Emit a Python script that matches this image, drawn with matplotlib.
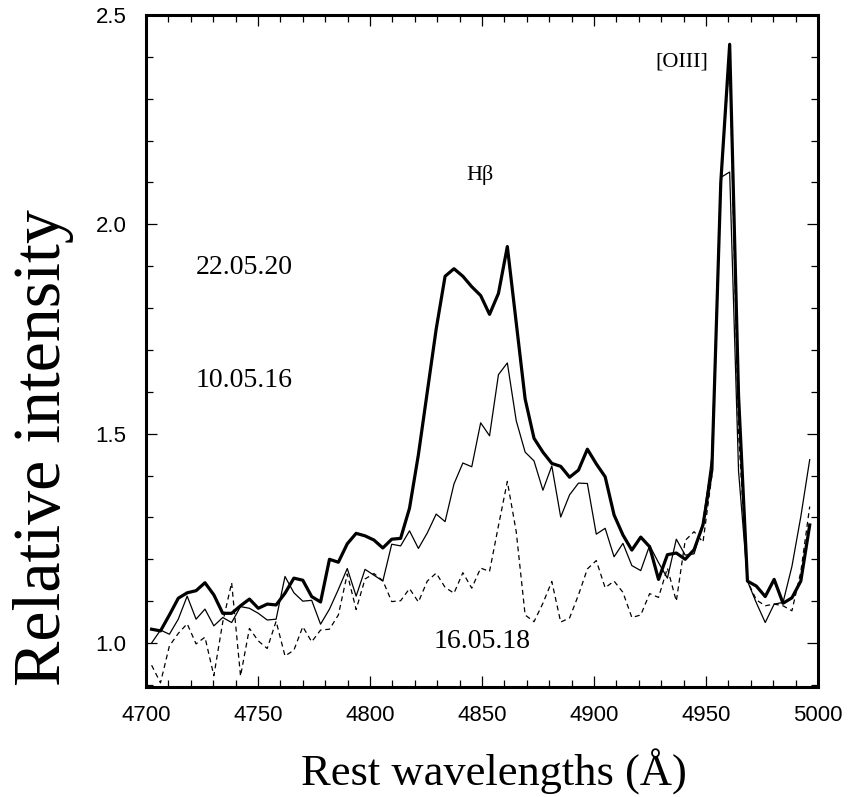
import numpy as np
import matplotlib
matplotlib.use("Agg")
import matplotlib.pyplot as plt
from matplotlib.ticker import MultipleLocator, FormatStrFormatter

#--------data begin--------
# wavelength grid of the spectra (Angstrom)
wavelength = np.linspace(4702.5, 4996.3, 75)

spec_220520 = [
  1.033, 1.029, 1.067, 1.107, 1.120, 1.125, 1.144, 1.115, 1.071, 1.071,
  1.089, 1.105, 1.083, 1.093, 1.091, 1.119, 1.155, 1.150, 1.111, 1.098,
  1.200, 1.193, 1.237, 1.262, 1.256, 1.246, 1.227, 1.248, 1.250, 1.322,
  1.450, 1.600, 1.750, 1.876, 1.894, 1.876, 1.851, 1.830, 1.785, 1.835,
  1.947, 1.765, 1.583, 1.489, 1.456, 1.429, 1.422, 1.396, 1.413, 1.463,
  1.428, 1.397, 1.306, 1.258, 1.222, 1.253, 1.230, 1.152, 1.211, 1.215,
  1.200, 1.223, 1.282, 1.414, 2.100, 2.430, 1.590, 1.148, 1.136, 1.111,
  1.152, 1.095, 1.108, 1.148, 1.282]

spec_100516 = [
  1.000, 1.031, 1.021, 1.057, 1.112, 1.057, 1.081, 1.041, 1.061, 1.049,
  1.087, 1.083, 1.071, 1.055, 1.057, 1.159, 1.120, 1.100, 1.102, 1.045,
  1.081, 1.128, 1.178, 1.112, 1.176, 1.162, 1.148, 1.236, 1.232, 1.268,
  1.226, 1.263, 1.308, 1.290, 1.380, 1.430, 1.421, 1.526, 1.495, 1.641,
  1.669, 1.531, 1.456, 1.435, 1.365, 1.423, 1.301, 1.354, 1.382, 1.381,
  1.260, 1.274, 1.206, 1.238, 1.185, 1.173, 1.233, 1.192, 1.155, 1.248,
  1.210, 1.213, 1.288, 1.446, 2.112, 2.125, 1.410, 1.148, 1.096, 1.049,
  1.093, 1.097, 1.183, 1.302, 1.438]

spec_160518 = [
  0.947, 0.905, 0.993, 1.023, 1.046, 0.998, 1.014, 0.922, 1.050, 1.144,
  0.921, 1.035, 1.005, 0.987, 1.052, 0.969, 0.983, 1.039, 1.003, 1.031,
  1.033, 1.067, 1.165, 1.080, 1.153, 1.166, 1.149, 1.099, 1.101, 1.130,
  1.098, 1.148, 1.167, 1.133, 1.119, 1.168, 1.131, 1.179, 1.171, 1.280,
  1.386, 1.266, 1.067, 1.051, 1.095, 1.147, 1.050, 1.060, 1.115, 1.177,
  1.197, 1.132, 1.148, 1.121, 1.061, 1.067, 1.118, 1.109, 1.179, 1.100,
  1.245, 1.266, 1.241, 1.400, 2.100, 2.400, 1.500, 1.148, 1.103, 1.089,
  1.093, 1.089, 1.077, 1.170, 1.326]

# label text, x, y
labels = [("22.05.20", 4744, 1.898, 20),
          ("10.05.16", 4744, 1.627, 20),
          ("16.05.18", 4850, 1.004, 20),
  ("H\u03b2", 4849, 2.117, 16),
          ("[OIII]", 4939, 2.388, 16)]
#--------data end--------

serif = "Liberation Serif"
sans = "Liberation Sans"

fig = plt.figure(figsize=(8.48, 7.97), dpi=100)
ax = fig.add_axes([146/848, 1 - 687/797, 672/848, 672/797])

ax.plot(wavelength, spec_160518, color="black", lw=0.9, ls=(0, (4, 3)))
ax.plot(wavelength, spec_100516, color="black", lw=0.9)
ax.plot(wavelength, spec_220520, color="black", lw=2.3)

for txt, x, y, fs in labels:
  ax.text(x, y, txt, ha="center", va="center", fontsize=fs, family=serif)

ax.set_xlim(4700, 5000)
ax.set_ylim(0.895, 2.5)
ax.xaxis.set_major_locator(MultipleLocator(50))
ax.xaxis.set_minor_locator(MultipleLocator(10))
ax.yaxis.set_major_locator(MultipleLocator(0.5))
ax.yaxis.set_minor_locator(MultipleLocator(0.1))
ax.yaxis.set_major_formatter(FormatStrFormatter("%.1f"))

ax.tick_params(which="both", direction="in", top=True, right=True, width=0.9)
ax.tick_params(which="major", length=8, labelsize=16)
ax.tick_params(which="minor", length=5)
ax.tick_params(axis="x", which="major", pad=13)
ax.tick_params(axis="y", which="major", pad=14)
for lab in ax.get_xticklabels() + ax.get_yticklabels():
  lab.set_family(sans)

for sp in ax.spines.values():
  sp.set_linewidth(2.2)

fig.text(44/848, 1 - 448/797, "Relative intensity", rotation=90,
         ha="center", va="center", fontsize=49, family=serif)
fig.text(494/848, 1 - 786/797, "Rest wavelengths (\u00c5)", ha="center",
         va="baseline", fontsize=32, family=serif)

fig.savefig("out.png", dpi=100)
